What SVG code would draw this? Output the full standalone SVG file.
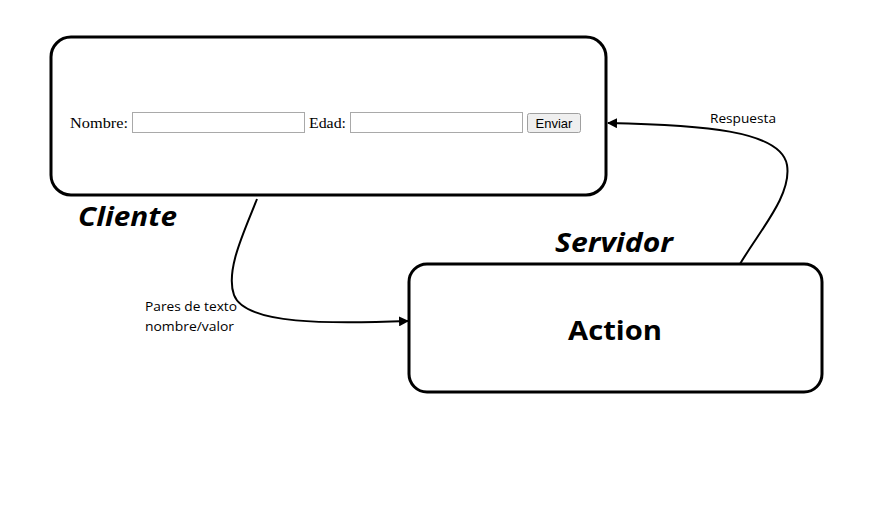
<svg xmlns="http://www.w3.org/2000/svg" width="879" height="505" viewBox="0 0 879 505">
<style>
.box{fill:#fff;stroke:#000;stroke-width:3}
.title{font-family:"Open Sans","Noto Sans",sans-serif;font-weight:bold;font-style:italic;font-size:27px;fill:#000}
.lbl{font-family:"Open Sans","Noto Sans",sans-serif;font-size:13.5px;fill:#000}
.ser{font-family:"Liberation Serif",serif;font-size:15.5px;fill:#000}
.inp{fill:#fff;stroke:#a9a9a9;stroke-width:1}
.conn{fill:none;stroke:#000;stroke-width:2}
</style>
<defs>
<marker id="arr" viewBox="0 0 10 10" refX="9" refY="5" markerWidth="5" markerHeight="5" orient="auto" markerUnits="strokeWidth">
<path d="M0,0 L10,5 L0,10 z" fill="#000"/>
</marker>
</defs>
<rect width="879" height="505" fill="#fff"/>
<g id="cliente">
<rect class="box" x="51" y="37" width="555" height="158" rx="20"/>
<text class="ser" x="70" y="128" textLength="58" lengthAdjust="spacingAndGlyphs">Nombre:</text>
<rect class="inp" x="132.5" y="112.5" width="172" height="20"/>
<text class="ser" x="309" y="128" textLength="37" lengthAdjust="spacingAndGlyphs">Edad:</text>
<rect class="inp" x="350.5" y="112.5" width="172" height="20"/>
<rect x="527.5" y="113.5" width="53" height="19" rx="2" fill="#efefef" stroke="#a0a0a0"/>
<text x="554" y="128" text-anchor="middle" font-family="Liberation Sans,Arial,sans-serif" font-size="13">Enviar</text>
<text class="title" x="78" y="226" textLength="99" lengthAdjust="spacingAndGlyphs">Cliente</text>
</g>
<g id="action">
<rect class="box" x="409" y="264" width="413" height="128" rx="18"/>
<text x="615" y="340" text-anchor="middle" font-family="Open Sans,Noto Sans,sans-serif" font-weight="bold" font-size="27" textLength="94" lengthAdjust="spacingAndGlyphs">Action</text>
<text class="title" x="555" y="252" textLength="118" lengthAdjust="spacingAndGlyphs">Servidor</text>
</g>
<g id="connectors">
<path class="conn" d="M257,199 C245,230 225,270 234,295 C245,325 330,324 408,321" marker-end="url(#arr)"/>
<text class="lbl" x="145" y="311" textLength="92" lengthAdjust="spacingAndGlyphs">Pares de texto</text>
<text class="lbl" x="145" y="331" textLength="89" lengthAdjust="spacingAndGlyphs">nombre/valor</text>
<path class="conn" d="M740,264 C760,230 792,195 787,165 C781,130 700,125 608,123" marker-end="url(#arr)"/>
<text class="lbl" x="710" y="123" textLength="66" lengthAdjust="spacingAndGlyphs">Respuesta</text>
</g>
</svg>
